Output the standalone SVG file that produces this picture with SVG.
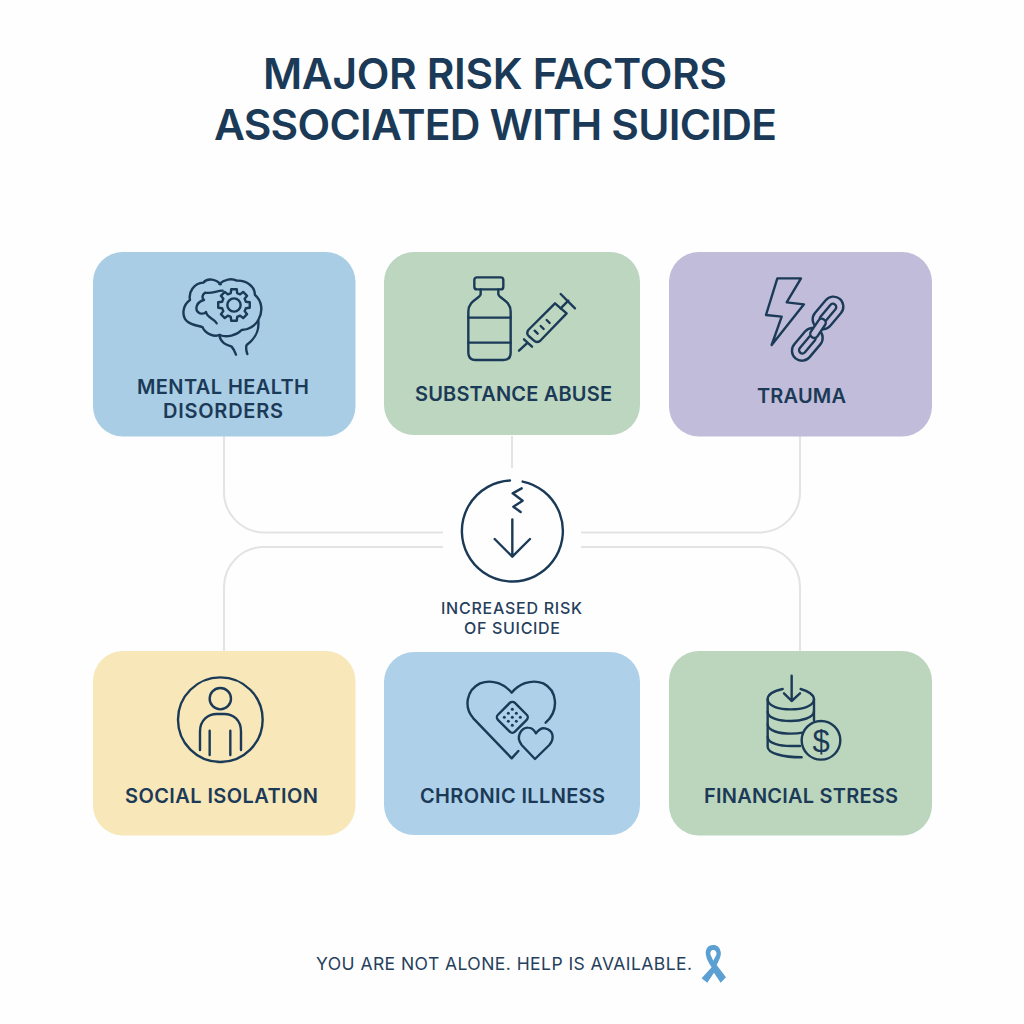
<svg xmlns="http://www.w3.org/2000/svg" width="1024" height="1024" viewBox="0 0 1024 1024">
<style>
text{font-family:"Inter","Liberation Sans",sans-serif;fill:#1b3a57;text-anchor:middle}
.title{font-size:42.5px;font-weight:600}
.label{font-size:20px;font-weight:600}
.mid{font-size:16px;font-weight:500;fill:#24405c}
.foot{font-size:17.5px;font-weight:400;fill:#24405c}
.card{stroke:none}
.ic{fill:none;stroke:#1b3a57;stroke-width:7.2;stroke-linecap:round;stroke-linejoin:round}
.conn{fill:none;stroke:#e3e3e3;stroke-width:2}
</style>
<rect width="1024" height="1024" fill="#fefefe"/>
<text class="title" x="495" y="88.500" textLength="464" lengthAdjust="spacing">MAJOR RISK FACTORS</text>
<text class="title" x="495.500" y="139.500" textLength="563" lengthAdjust="spacing">ASSOCIATED WITH SUICIDE</text>
<g id="connectors">
<path class="conn" d="M224 436V492A40.500 40.500 0 0 0 264.500 532.500H443"/>
<path class="conn" d="M224 651V587A40 40 0 0 1 264 547H443"/>
<path class="conn" d="M800 436V492A40.500 40.500 0 0 1 759.500 532.500H581"/>
<path class="conn" d="M800 651V587A40 40 0 0 0 760 547H581"/>
<path class="conn" d="M512 436V468"/>
</g>
<g id="node-mental-health">
<rect class="card" x="93" y="252" width="262.500" height="184.500" rx="30" fill="#a9cde4"/>
<g class="ic" transform="translate(90 250) scale(.3333)">
<path d="M392 103C380 88 352 82 340 98C312 100 295 125 300 150C278 165 272 200 295 217C310 228 328 226 338 232C345 250 372 262 390 255C410 264 440 256 455 240C475 240 495 228 505 210C520 185 516 152 495 135C495 110 470 90 440 92C425 84 402 88 388 102"/>
<path d="M505 212C508 240 500 262 470 285C466 295 470 305 472 312"/>
<path d="M388 255C392 280 410 285 425 290C432 298 435 306 438 314"/>
<path d="M398 122C378 122 368 132 345 128C335 135 336 145 342 150C320 155 310 180 330 190C338 192 345 190 348 186C352 205 372 204 380 220"/>
<polygon transform="translate(432 165)" points="35.700,-9.600 47.300,-8.300 47.300,8.300 35.700,9.600 32,18.400 39.300,27.600 27.600,39.300 18.400,32 9.600,35.700 8.300,47.300 -8.300,47.300 -9.600,35.700 -18.400,32 -27.600,39.300 -39.300,27.600 -32,18.400 -35.700,9.600 -47.300,8.300 -47.300,-8.300 -35.700,-9.600 -32,-18.400 -39.300,-27.600 -27.600,-39.300 -18.400,-32 -9.600,-35.700 -8.300,-47.300 8.300,-47.300 9.600,-35.700 18.400,-32 27.600,-39.300 39.300,-27.600 32,-18.400"/>
<circle cx="432" cy="165" r="20"/>
</g>
<text class="label" x="223" y="394" textLength="172" lengthAdjust="spacing">MENTAL HEALTH</text>
<text class="label" x="223" y="418" textLength="120" lengthAdjust="spacing">DISORDERS</text>
</g>
<g id="node-substance-abuse">
<rect class="card" x="384" y="252" width="256" height="183" rx="30" fill="#bcd6c0"/>
<g class="ic" transform="translate(440 270) scale(.3333)">
<rect x="103" y="22" width="87" height="36" rx="8"/>
<path d="M122 58V72C122 85 85 90 85 125V248Q85 270 107 270H190Q212 270 212 248V125C212 90 175 85 175 72V58"/>
<path d="M85 143H212M85 218H212"/>
<path d="M345 100L380 130L300 213Q290 220 282 212L266 198Q258 190 265 180Z"/>
<path d="M362 115L385 92M362 72L405 115M252 208L276 230M237 242L263 218M284 182L293 191M302 168L311 177M320 150L329 159"/>
</g>
<text class="label" x="513.500" y="401" textLength="197" lengthAdjust="spacing">SUBSTANCE ABUSE</text>
</g>
<g id="node-trauma">
<rect class="card" x="669" y="252" width="263" height="184.500" rx="30" fill="#c0bcd9"/>
<g class="ic" transform="translate(740 265) scale(.3333)">
<path d="M112 40H183L140 112L192 118L95 240L125 155L78 150Z"/>
<rect x="-55" y="-30" width="110" height="60" rx="30" transform="translate(264 144) rotate(-50)"/>
<rect x="-33" y="-10" width="66" height="20" rx="10" transform="translate(264 144) rotate(-50)"/>
<rect x="-55" y="-30" width="110" height="60" rx="30" transform="translate(202 238) rotate(-50)"/>
<rect x="-33" y="-10" width="66" height="20" rx="10" transform="translate(202 238) rotate(-50)"/>
<rect x="-32" y="-12" width="64" height="24" rx="12" fill="#c0bcd9" transform="translate(234 190) rotate(-56)"/>
</g>
<text class="label" x="801.500" y="403" textLength="89" lengthAdjust="spacing">TRAUMA</text>
</g>
<g id="node-center">
<g class="ic" transform="translate(420 460) scale(.3333)">
<path d="M270 61.700A151.500 151.500 0 1 0 308 64.700"/>
<path d="M305 85L278 100L308 122L280 140L302 156"/>
<path d="M277 178V290M224 237L277 290L330 237"/>
</g>
<text class="mid" x="511.500" y="614" textLength="141" lengthAdjust="spacing">INCREASED RISK</text>
<text class="mid" x="512" y="634" textLength="96" lengthAdjust="spacing">OF SUICIDE</text>
</g>
<g id="node-social-isolation">
<rect class="card" x="93" y="651" width="262.500" height="184.500" rx="30" fill="#f8e7b9"/>
<g class="ic" transform="translate(160 670) scale(.3333)">
<circle cx="181" cy="149" r="127"/>
<circle cx="181" cy="86" r="32"/>
<path d="M120 240V185C120 150 145 132 170 132H192C220 132 243 150 243 185V240M149 182V255M211 182V255"/>
</g>
<text class="label" x="221.500" y="803" textLength="193" lengthAdjust="spacing">SOCIAL ISOLATION</text>
</g>
<g id="node-chronic-illness">
<rect class="card" x="384" y="652" width="256" height="183" rx="30" fill="#aed0e8"/>
<g class="ic" transform="translate(450 670) scale(.3333)">
<path d="M205 243L185 265L70 145C40 110 50 60 90 40C130 25 165 45 185 68C205 45 240 25 280 40C320 60 330 120 287 158"/>
<rect x="-36" y="-36" width="72" height="72" rx="11" transform="translate(187 142) rotate(45)"/>
<path d="M255 267L215 225C195 200 215 172 235 173C245 173 252 180 258 190C265 180 275 173 285 175C310 180 315 205 298 225Z"/>
<g fill="#1b3a57" stroke="none">
<circle cx="187" cy="118" r="4.500"/><circle cx="175" cy="130" r="4.500"/><circle cx="199" cy="130" r="4.500"/>
<circle cx="163" cy="142" r="4.500"/><circle cx="187" cy="142" r="4.500"/><circle cx="211" cy="142" r="4.500"/>
<circle cx="175" cy="154" r="4.500"/><circle cx="199" cy="154" r="4.500"/><circle cx="187" cy="166" r="4.500"/>
</g>
</g>
<text class="label" x="512.500" y="803" textLength="185" lengthAdjust="spacing">CHRONIC ILLNESS</text>
</g>
<g id="node-financial-stress">
<rect class="card" x="669" y="651" width="263" height="184.500" rx="30" fill="#bcd6bd"/>
<g class="ic" transform="translate(750 665) scale(.3333)">
<path d="M98 72C70 78 53 90 53 103C53 125 90 133 122 133C155 133 192 125 192 103C192 90 175 78 152 72"/>
<path d="M53 103V245C53 265 100 277 155 277M192 103V165"/>
<path d="M53 140C53 160 90 168 122 168C150 168 192 160 192 138M53 178C53 198 90 206 122 206C135 206 148 205 158 203M53 215C53 235 90 243 122 243H150"/>
<path d="M125 32V108M102 85L125 108L150 85"/>
<circle cx="213" cy="226" r="58"/>
</g>
<text x="821" y="752" font-size="31" style="font-family:'Liberation Sans',sans-serif">$</text>
<text class="label" x="801" y="803" textLength="194" lengthAdjust="spacing">FINANCIAL STRESS</text>
</g>
<g id="footer">
<text class="foot" x="504" y="970" textLength="376" lengthAdjust="spacing">YOU ARE NOT ALONE. HELP IS AVAILABLE.</text>
<g transform="translate(300 930) scale(.3333)">
<path fill="#5b9fd3" fill-rule="evenodd" d="M1240 45C1222 45 1215 60 1218 75C1220 90 1228 100 1235 112L1205 145L1222 158L1242 128L1262 158L1278 142L1250 105C1258 90 1265 75 1262 65C1260 52 1252 45 1240 45ZM1240 60C1232 60 1230 68 1232 75L1240 92L1249 75C1251 68 1248 60 1240 60Z"/>
</g>
</g>
</svg>
